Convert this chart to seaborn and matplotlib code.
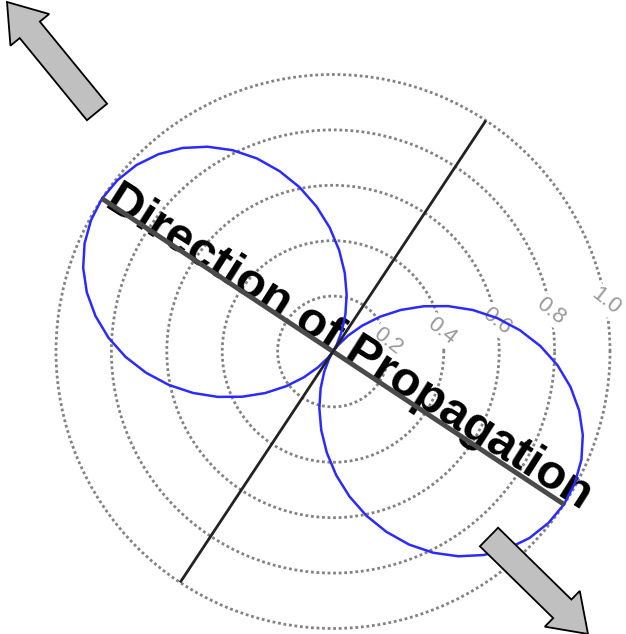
import numpy as np
import pandas as pd
import matplotlib
matplotlib.use("Agg")
import matplotlib.pyplot as plt
from matplotlib.patches import FancyArrow
import seaborn as sns

# --- Data ---
# lobe axis angle (deg, counter-clockwise from east) and grid radii
axis_deg = -33.5
r_ticks = [0.2, 0.4, 0.6, 0.8, 1.0]
r_labels = ["0.2", "0.4", "0.6", "0.8", "1.0"]
label_angle_deg = 10.5
quad_angles = list(range(0, 95, 5))
quad_r = [1.000, 0.994, 0.978, 0.951, 0.914, 0.867, 0.812, 0.749, 0.679, 0.605,
          0.527, 0.447, 0.366, 0.287, 0.211, 0.141, 0.079, 0.029, 0.000]
title_text = "Direction of Propagation"

# full pattern from the quadrant by mirroring
half_r = quad_r + quad_r[::-1][1:]
full_r = half_r + half_r[1:]
full_ang = list(range(0, 365, 5))
pattern = pd.DataFrame({
    "theta": np.deg2rad(np.array(full_ang) + axis_deg),
    "r": full_r,
})

# --- Figure ---
sns.set_style("white")
W, H = 626, 634
fig = plt.figure(figsize=(W / 100, H / 100), dpi=100)

cx, cy, rad = 333, 351.5, 277
rmax = 1.02
rpx = rad * rmax
ax = fig.add_axes([(cx - rpx) / W, (H - cy - rpx) / H, 2 * rpx / W, 2 * rpx / H],
                  projection="polar")
ax.set_ylim(0, rmax)
ax.set_axisbelow(True)
ax.set_xticks([])
ax.set_yticks(r_ticks)
ax.set_yticklabels([])
ax.xaxis.grid(False)
ax.yaxis.grid(True, color="0.3", linestyle=(0, (1, 1)), linewidth=2.0, alpha=0.7)
ax.spines["polar"].set_visible(False)
ax.set_facecolor("none")

# radiation pattern
sns.lineplot(data=pattern, x="theta", y="r", sort=False, estimator=None,
             color="#2b2bff", linewidth=1.8, ax=ax, zorder=4)
ax.set_xlabel("")
ax.set_ylabel("")

# direction of propagation line and perpendicular
a = np.deg2rad(axis_deg)
p = np.deg2rad(axis_deg + 90)
ax.plot([a + np.pi, a + np.pi, a, a], [1, 0, 0, 1], color="#4a4a4a", linewidth=3.5,
        solid_capstyle="butt", zorder=5)
ax.plot([p, p, p + np.pi, p + np.pi], [1, 0, 0, 1], color="#222222", linewidth=2,
        solid_capstyle="butt", zorder=5)

# radial labels
for rv, lab in zip(r_ticks, r_labels):
    ax.text(np.deg2rad(label_angle_deg), rv, lab, rotation=-38, rotation_mode="anchor",
            ha="center", va="center", fontsize=16, color="0.6",
            family="Liberation Sans", zorder=1,
            bbox=dict(fc="white", ec="none", pad=1.0))

ax.text(a, 0.04, title_text, rotation=axis_deg + 1, rotation_mode="anchor",
        ha="center", va="baseline", fontsize=35, fontweight="bold",
        family="Liberation Sans", color="black", zorder=3)

# --- Arrows ---
ov = fig.add_axes([0, 0, 1, 1])
ov.set_xlim(0, W)
ov.set_ylim(H, 0)
ov.axis("off")
ov.patch.set_alpha(0)
for (x0, y0, x1, y1) in [(97, 112, 7, 2), (489, 537, 588, 634)]:
    ov.add_patch(FancyArrow(x0, y0, x1 - x0, y1 - y0, width=26, head_width=50,
                            head_length=36, length_includes_head=True,
                            fc="#c0c0c0", ec="black", lw=1.3, zorder=6))

fig.savefig("out.png", dpi=100)
